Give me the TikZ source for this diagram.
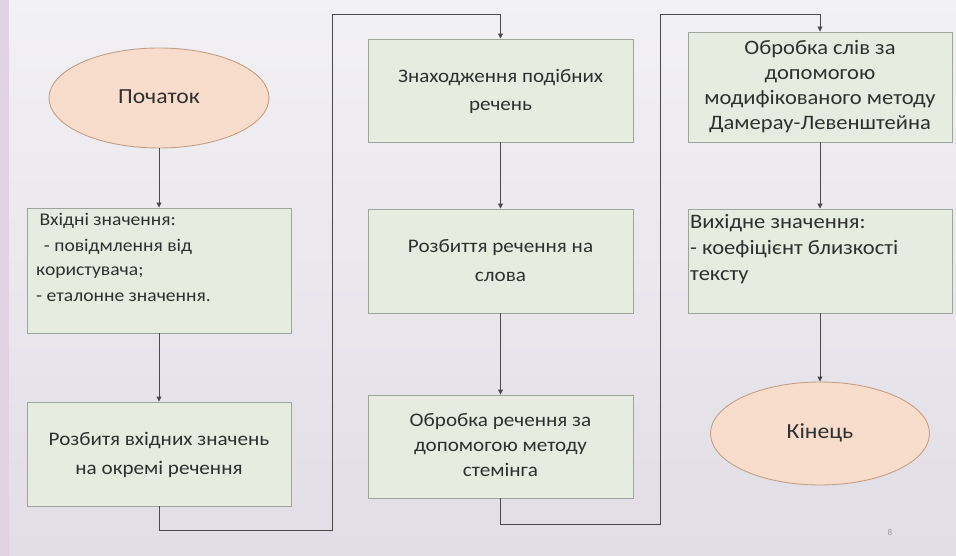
\documentclass[tikz,border=0pt]{standalone}
\usepackage{fontspec}
\usepackage{graphicx}
\setmainfont{Carlito}
\usetikzlibrary{arrows.meta,shapes.geometric}
\definecolor{bgtop}{HTML}{F2F1F4}
\definecolor{bgbot}{HTML}{E2DDE6}
\definecolor{boxfill}{HTML}{E6ECDF}
\definecolor{boxline}{HTML}{9EA69C}
\definecolor{ellfill}{HTML}{F8DDCC}
\definecolor{ellline}{HTML}{C49F85}
\definecolor{conn}{HTML}{4A4A4A}
\definecolor{txt}{HTML}{303030}
\newcommand{\sxc}[1]{\scalebox{1.1}[1]{\begin{tabular}{@{}c@{}}#1\end{tabular}}}
\newcommand{\sxl}[1]{\scalebox{1.1}[1]{\begin{tabular}[t]{@{}l@{}}#1\end{tabular}}}
\tikzset{
  stepbox/.style={draw=boxline, fill=boxfill, line width=0.9pt, rectangle, inner sep=0pt, text=txt},
  termell/.style={draw=ellline, fill=ellfill, line width=0.9pt, ellipse, inner sep=0pt, text=txt, font=\fontsize{21.5}{26}\selectfont},
  boxtext/.style={text=txt, inner sep=0pt},
  conline/.style={draw=conn, line width=0.9pt, -{Triangle[length=5pt,width=5pt]}},
}
\begin{document}
\begin{tikzpicture}[x=1pt,y=-1pt]
\useasboundingbox (0,0) rectangle (956,556);
\shade[top color=bgtop, bottom color=bgbot] (0,0) rectangle (956,556);
\fill[color=bgbot!90!violet!80] (0,0) rectangle (9,556);

% column 1
\node[termell, minimum width=220pt, minimum height=100pt] (start) at (159,98) {\sxc{Початок}};
\node[stepbox, minimum width=264pt, minimum height=125pt] (b1) at (159,270.5) {};
\node[boxtext, anchor=base west, font=\fontsize{17.8}{25}\selectfont] (t1) at (36,226)
  {\sxl{\hspace*{3pt}Вхідні значення:\\\hspace*{3pt} - повідмлення від\\користувача;\\- еталонне значення.}};
\node[stepbox, minimum width=264pt, minimum height=104pt, font=\fontsize{19.2}{29}\selectfont] (b2) at (159,454)
  {\sxc{Розбитя вхідних значень\\на окремі речення}};

% column 2
\node[stepbox, minimum width=265pt, minimum height=103pt, font=\fontsize{19.1}{28}\selectfont] (b3) at (500.5,90.5)
  {\sxc{Знаходження подібних\\речень}};
\node[stepbox, minimum width=265pt, minimum height=104pt, font=\fontsize{19.2}{29}\selectfont] (b4) at (500.5,261)
  {\sxc{Розбиття речення на\\слова}};
\node[stepbox, minimum width=265pt, minimum height=103pt, font=\fontsize{19.2}{25}\selectfont] (b5) at (500.5,446.5)
  {\sxc{Обробка речення за\\допомогою методу\\стемінга}};

% column 3
\node[stepbox, minimum width=264pt, minimum height=110pt, font=\fontsize{20.5}{25}\selectfont] (b6) at (820,87)
  {\sxc{Обробка слів за\\допомогою\\модифікованого методу\\Дамерау-Левенштейна}};
\node[stepbox, minimum width=264pt, minimum height=104pt] (b7) at (820,261) {};
\node[boxtext, anchor=base west, font=\fontsize{20.5}{26}\selectfont] (t7) at (690,229)
  {\sxl{Вихідне значення:\\- коефіцієнт близкості\\тексту}};
\node[termell, minimum width=219pt, minimum height=103pt] (end) at (820,433.5) {\sxc{Кінець}};

\node[text=gray!80, font=\fontsize{9}{10}\selectfont] (pg) at (890,532) {8};

% connectors
\coordinate (c1a) at (159,530);
\coordinate (c1b) at (332,530);
\coordinate (c1c) at (332,14);
\coordinate (c1d) at (500.5,14);
\coordinate (c2a) at (500.5,524);
\coordinate (c2b) at (660,524);
\coordinate (c2c) at (660,14);
\coordinate (c2d) at (820,14);

\draw[conline] (start.south) -- (b1.north);
\draw[conline] (b1.south) -- (b2.north);
\draw[conline] (b2.south) -- (c1a) -- (c1b) -- (c1c) -- (c1d) -- (b3.north);
\draw[conline] (b3.south) -- (b4.north);
\draw[conline] (b4.south) -- (b5.north);
\draw[conline] (b5.south) -- (c2a) -- (c2b) -- (c2c) -- (c2d) -- (b6.north);
\draw[conline] (b6.south) -- (b7.north);
\draw[conline] (b7.south) -- (end.north);
\end{tikzpicture}
\end{document}
